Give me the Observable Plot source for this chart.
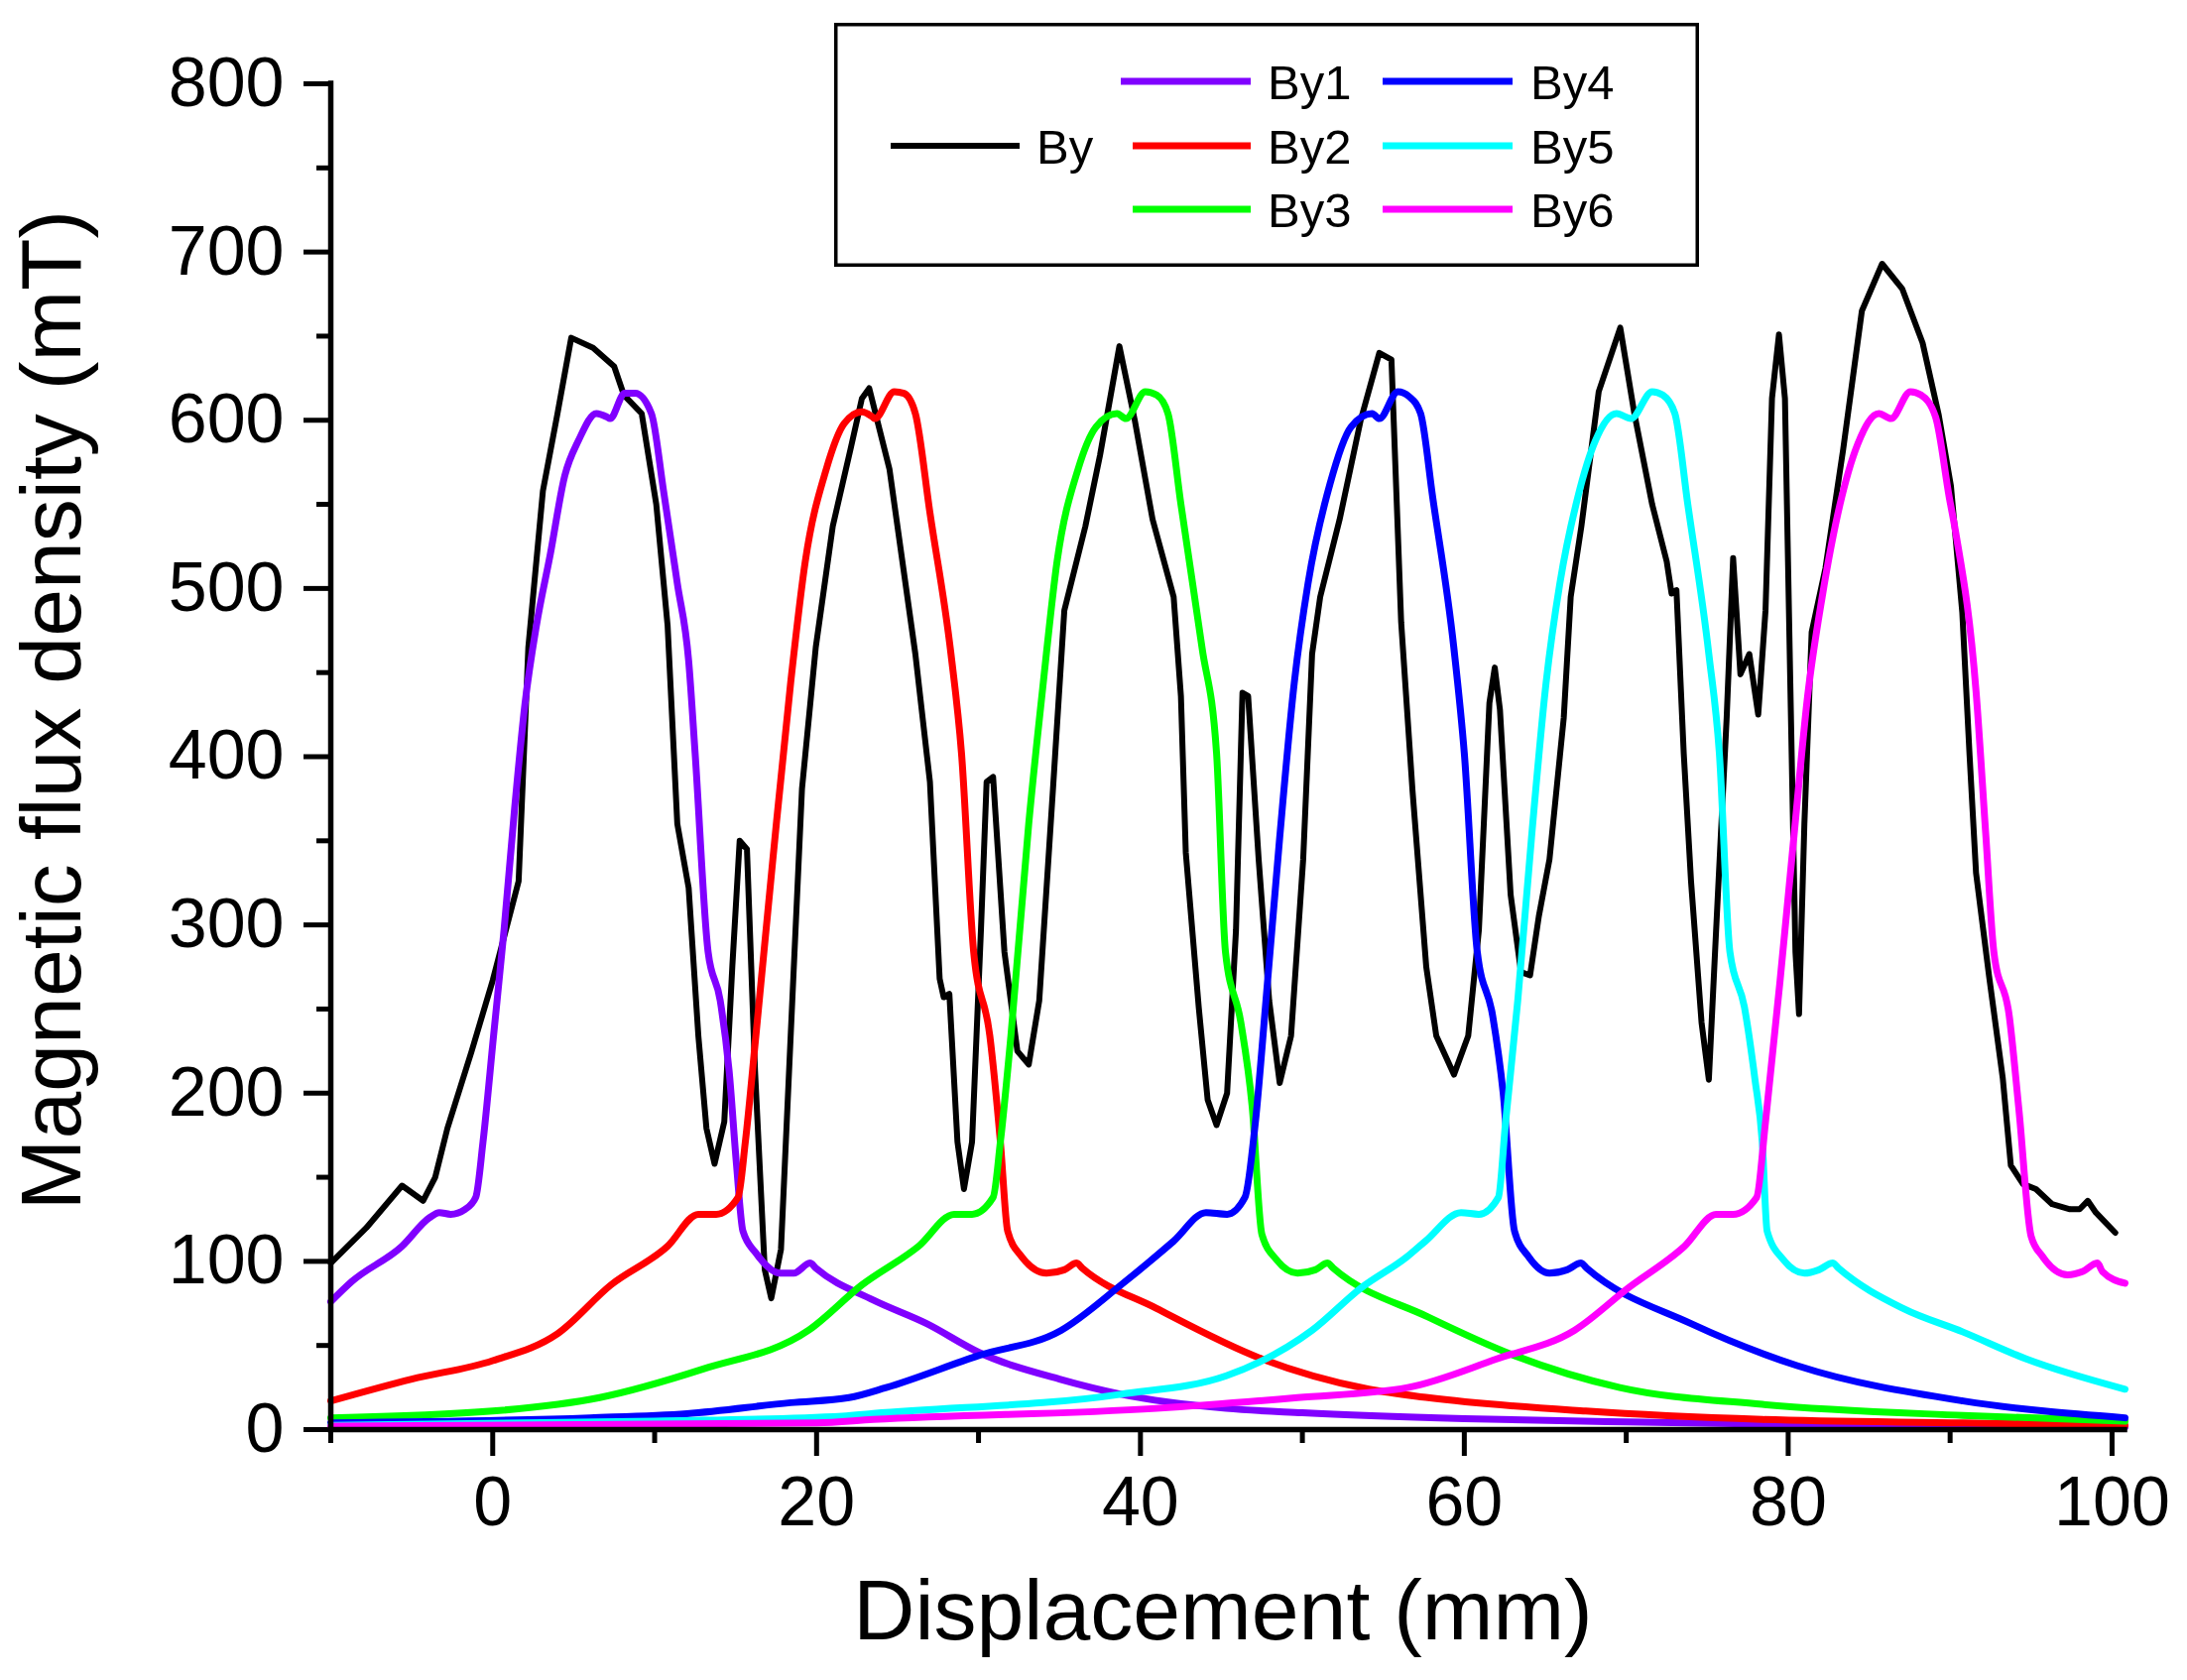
<!DOCTYPE html>
<html>
<head>
<meta charset="utf-8">
<title>Magnetic flux density vs displacement</title>
<script src="https://cdn.jsdelivr.net/npm/d3@7"></script>
<script src="https://cdn.jsdelivr.net/npm/@observablehq/plot@0.6"></script>
<style>
  html, body { margin: 0; padding: 0; background: #fff; }
  #chart { position: relative; width: 2205px; height: 1694px; font-family: "Liberation Sans", Arial, sans-serif; }
  #legend { position: absolute; left: 841px; top: 23px; }
</style>
</head>
<body>
<div id="chart"></div>
<script>
// Axis ticks
var xMajorTicks = [0, 20, 40, 60, 80, 100];
var xMinorTicks = [-10, 10, 30, 50, 70, 90];
var yMajorTicks = [0, 100, 200, 300, 400, 500, 600, 700, 800];
var yMinorTicks = [50, 150, 250, 350, 450, 550, 650, 750];

var xTitle = "Displacement (mm)";
var yTitle = "Magnetic flux density (mT)";

var seriesNames = ["By", "By1", "By2", "By3", "By4", "By5", "By6"];
var seriesColors = ["#000000", "#8000ff", "#ff0000", "#00ff00", "#0000ff", "#00ffff", "#ff00ff"];

// [displacement mm, flux density mT]
var by = [[-10,99],[-7.8,120],[-5.6,145],[-4.3,136],[-3.55,150],[-2.8,179],[-1.3,225],[0,267],[1.6,326],
  [2.2,465],[3.1,558],[4.0,604],[4.85,649],[6.2,643],[7.5,632],[8.1,615],[9.2,604],[10.1,550],[10.8,478],
  [11.4,360],[12.1,322],[12.7,234],[13.2,179],[13.7,158],[14.3,183],[14.8,276],[15.25,350],[15.7,345],
  [16.2,213],[16.8,95],[17.2,78],[17.8,107],[18.4,234],[19.1,381],[19.95,465],[21.0,537],[22.1,583],
  [22.8,613],[23.25,619],[24.5,571],[26.1,461],[27.0,385],[27.6,268],[27.85,257],[28.2,259],[28.7,171],
  [29.1,143],[29.6,171],[30.15,297],[30.5,385],[30.9,388],[31.6,284],[32.4,225],[33.1,217],[33.75,255],
  [34.6,381],[35.3,487],[36.6,537],[37.5,579],[38.7,644],[39.65,600],[40.75,541],[42.05,495],[42.5,436],
  [42.8,343],[43.6,251],[44.15,196],[44.7,181],[45.35,200],[45.9,297],[46.3,438],[46.65,436],[47.3,339],
  [47.95,255],[48.6,206],[49.3,234],[50.05,339],[50.6,461],[51.1,495],[52.3,541],[53.6,600],[54.75,640],
  [55.5,636],[56.1,480],[56.8,380],[57.65,275],[58.27,234],[59.36,211],[60.24,234],[60.9,297],[61.55,432],
  [61.88,453],[62.2,428],[62.86,318],[63.5,272],[64.06,270],[64.6,305],[65.26,339],[66.14,423],[66.57,495],
  [67.23,537],[68.3,617],[69.63,655],[70.5,604],[71.6,550],[72.5,516],[72.8,497],[73.1,499],[73.55,402],
  [74.0,326],[74.65,242],[75.1,208],[75.55,297],[76.2,423],[76.6,518],[77.05,449],[77.6,461],[78.15,425],
  [78.6,487],[79.0,613],[79.43,651],[79.8,613],[80.13,444],[80.45,284],[80.67,247],[81.0,360],[81.45,474],
  [82.3,512],[83.4,583],[84.55,665],[85.8,693],[87.05,678],[88.3,646],[89.3,603],[90.05,561],[90.75,486],
  [91.2,401],[91.6,331],[92.4,270],[93.25,209],[93.75,157],[94.5,146],[95.3,143],[96.3,134],[97.4,131],
  [98.0,131],[98.5,136],[99.0,129],[100.2,117]];

var by1 = [[-10,76],[-8.7,88],[-5.6,109],[-3.9,126],[-3.3,129],[-2.6,128],[-1.7,131],[-1.05,138],[-0.6,171],
  [0.05,234],[0.7,297],[1.35,369],[2.0,432],[2.7,478],[3.55,520],[4.45,567],[5.3,588],[6.4,604],[7.05,602],
  [7.25,601],[8.15,616],[8.8,616],[9.8,604],[10.55,558],[11.4,503],[12.1,457],[12.5,402],[13.3,284],
  [14.05,255],[14.6,213],[15.05,158],[15.45,118],[16.25,105],[17.75,93],[18.6,93],[19.6,99],[19.95,96],
  [23.5,77],[26.8,63],[30.0,46],[35,30],[38.8,21],[45.3,12.6],[50,10],[60,6.5],[70,4.5],[80,3],[90,2.2],[100.8,1.5]];

var by2 = [[-10,17],[-5,30],[0,41],[4,57],[7.3,86],[10.8,109],[12.7,128],[13.8,128],[15.15,138],[15.6,171],
  [16.25,234],[17.3,339],[18.4,444],[19.3,516],[20.6,571],[21.7,598],[22.8,605],[23.45,602],[23.6,601],
  [24.8,617],[25.4,616],[26.1,604],[27.0,545],[28.3,461],[28.95,402],[29.7,284],[30.7,234],[31.35,171],
  [31.8,118],[32.65,103],[34.2,93],[35.3,95],[36.05,99],[36.4,96],[41.0,72],[47.5,42],[54.1,24],[57.75,19],
  [67.5,11],[78.4,6],[90.8,4],[100.8,2.5]];

var by3 = [[-10,7],[0,11],[6.6,19],[13,36],[19.5,59],[22.8,86],[26.3,109],[28.5,128],[29.6,128],[30.9,138],
  [31.35,171],[32.0,234],[33.1,360],[34.0,444],[34.85,516],[36.15,571],[37.25,596],[38.55,604],[39.1,601],
  [40.3,617],[41.0,615],[41.7,604],[42.5,550],[43.8,465],[44.7,402],[45.25,284],[46.2,242],[46.9,192],
  [47.5,116],[48.4,101],[49.7,93],[50.8,95],[51.55,99],[51.9,96],[57.75,67],[63.1,44],[69.6,25],[78.4,15],
  [90.8,8.4],[100.8,5]];

var by4 = [[-10,4],[6,7],[12,9.5],[18.4,16],[22,19],[24.3,25],[30,44],[35.1,59],[38.8,86],[42.05,112],
  [44.05,129],[45.35,128],[46.45,138],[47.1,183],[47.75,255],[48.6,352],[49.5,444],[50.35,503],[51.7,562],
  [53.0,596],[54.3,604],[54.75,601],[55.9,617],[56.6,614],[57.3,604],[58.05,554],[59.35,465],[60.0,402],
  [60.8,284],[61.75,246],[62.4,200],[63.1,118],[63.95,103],[65.25,93],[66.35,95],[67.2,99],[67.55,96],
  [74.0,63],[80.55,38],[90.8,17],[100.8,7]];

var by5 = [[-10,2.5],[10,5],[21.6,8],[23.5,9.6],[38.8,21],[45.3,32],[50.6,59],[53.6,84],[56.5,103],[57.6,112],
  [59.8,129],[60.9,128],[62.1,138],[62.55,183],[63.3,255],[64.15,352],[65.05,444],[65.9,503],[67.0,554],
  [68.1,588],[69.4,604],[70.3,601],[71.6,617],[72.25,615],[73.0,604],[73.8,550],[75.1,461],[75.75,402],
  [76.4,284],[77.3,251],[77.95,208],[78.4,171],[78.7,118],[79.7,101],[81.0,93],[81.9,95],[82.75,99],
  [83.1,96],[87.1,72],[90.8,58],[94.7,42],[100.8,24]];

var by6 = [[-10,2],[20,4],[23.5,6],[41,12.6],[49.7,19],[56.5,25],[62,42],[66.8,59],[70.1,84],[73.6,109],
  [75.55,128],[76.6,128],[78.05,138],[78.6,183],[79.5,267],[80.35,352],[81.2,436],[82.1,495],[83.2,550],
  [84.3,586],[85.6,604],[86.35,601],[87.55,617],[88.2,615],[89.1,602],[89.95,554],[90.35,533],[91.6,439],
  [92.2,354],[92.7,284],[93.65,246],[94.25,190],[95.0,115],[95.7,103],[97.25,92],[98.2,94],[99.1,99],
  [99.4,94],[100.8,87]];

var seriesPoints = [by, by1, by2, by3, by4, by5, by6];

function renderChart() {
  var container = document.getElementById("chart");
  container.innerHTML = "";

  // black trace is drawn straight, the six component curves are smooth
  var lineMarks = seriesPoints.map(function (pts, i) {
    var rows = pts.map(function (p) { return {series: seriesNames[i], x: p[0], y: p[1]}; });
    return Plot.line(rows, {
      x: "x", y: "y",
      stroke: seriesColors[i],
      strokeWidth: i === 0 ? 6 : 7,
      strokeLinejoin: "round",
      curve: i === 0 ? "linear" : "monotone-x"
    });
  });

  var plot = Plot.plot({
    width: 2205,
    height: 1694,
    marginLeft: 333,
    marginRight: 63,
    marginTop: 84,
    marginBottom: 253,
    x: {domain: [-10, 100.8], axis: null},
    y: {domain: [0, 800], axis: null},
    style: {fontFamily: "'Liberation Sans', Arial, sans-serif", background: "white", color: "black", overflow: "visible"},
    marks: [
      Plot.axisX({ticks: xMinorTicks, tickSize: 14, text: null, label: null, strokeWidth: 5}),
      Plot.axisX({ticks: xMajorTicks, tickSize: 27, tickPadding: 20, fontSize: 70, label: null, strokeWidth: 5}),
      Plot.axisY({ticks: yMinorTicks, tickSize: 14, text: null, label: null, strokeWidth: 5}),
      Plot.axisY({ticks: yMajorTicks, tickSize: 27, tickPadding: 20, fontSize: 70, label: null, strokeWidth: 5}),
      lineMarks,
      Plot.ruleX([-10], {strokeWidth: 5.5, strokeLinecap: "square"}),
      Plot.ruleY([0], {strokeWidth: 5.5, strokeLinecap: "square"}),
      Plot.text([xTitle], {text: function (d) { return d; }, frameAnchor: "bottom", dx: -5, dy: 184, lineAnchor: "middle", textAnchor: "middle", fontSize: 86, fill: "black"}),
      Plot.text([yTitle], {text: function (d) { return d; }, frameAnchor: "left", dx: -280, dy: -47, rotate: -90, lineAnchor: "middle", textAnchor: "middle", fontSize: 86, fill: "black"})
    ]
  });
  container.appendChild(plot);

  // Legend box drawn over the plot area
  var slots = [
    {x1: 57, x2: 187, y: 124, tx: 204},
    {x1: 289, x2: 420, y: 59, tx: 437},
    {x1: 301, x2: 420, y: 124, tx: 437},
    {x1: 301, x2: 420, y: 188, tx: 437},
    {x1: 553, x2: 684, y: 59, tx: 702},
    {x1: 553, x2: 684, y: 124, tx: 702},
    {x1: 553, x2: 684, y: 188, tx: 702}
  ];
  var legend = d3.select(container).append("svg")
    .attr("id", "legend")
    .attr("width", 872)
    .attr("height", 246);
  legend.append("rect")
    .attr("x", 1.75).attr("y", 1.75)
    .attr("width", 868.5).attr("height", 242.5)
    .attr("fill", "white").attr("stroke", "black").attr("stroke-width", 3.5);
  var entries = legend.selectAll("g.entry").data(seriesNames).join("g").attr("class", "entry");
  entries.append("line")
    .attr("x1", function (d, i) { return slots[i].x1; })
    .attr("x2", function (d, i) { return slots[i].x2; })
    .attr("y1", function (d, i) { return slots[i].y; })
    .attr("y2", function (d, i) { return slots[i].y; })
    .attr("stroke", function (d, i) { return seriesColors[i]; })
    .attr("stroke-width", function (d, i) { return i === 0 ? 6 : 7; });
  entries.append("text")
    .attr("x", function (d, i) { return slots[i].tx; })
    .attr("y", function (d, i) { return slots[i].y; })
    .attr("dy", "0.36em")
    .attr("font-size", 49)
    .attr("font-family", "'Liberation Sans', Arial, sans-serif")
    .attr("fill", "black")
    .text(function (d) { return d; });
}

renderChart();
</script>
</body>
</html>
